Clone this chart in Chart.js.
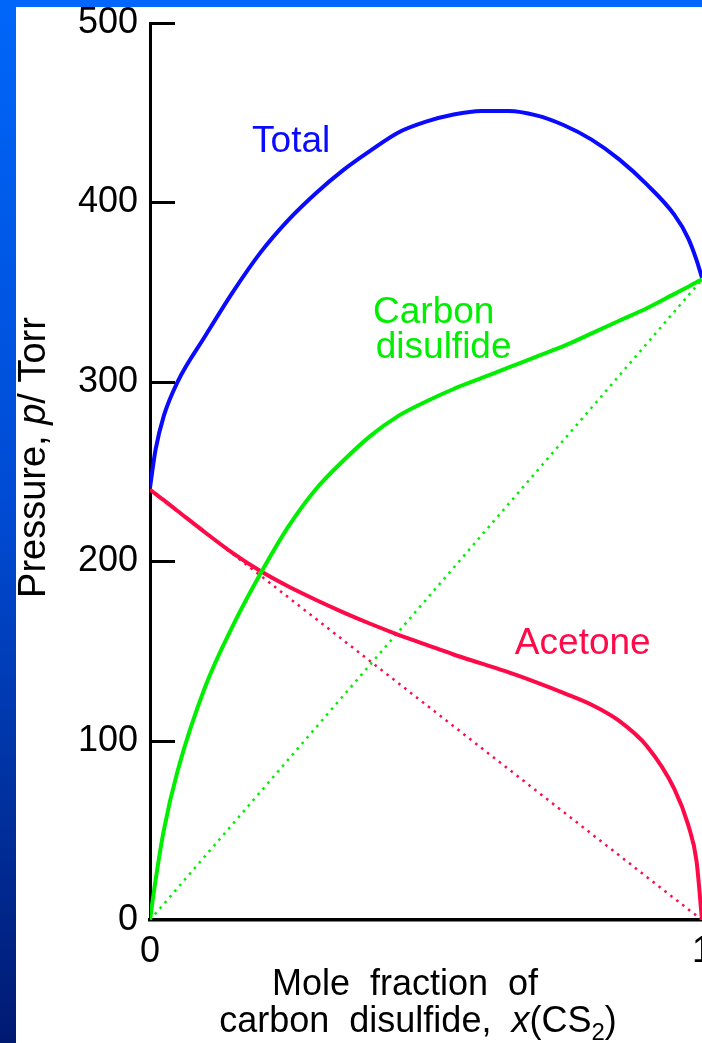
<!DOCTYPE html>
<html>
<head>
<meta charset="utf-8">
<script src="https://cdn.jsdelivr.net/npm/chart.js@4.4.1/dist/chart.umd.min.js"></script>
<style>
html, body { margin:0; padding:0; width:702px; height:1043px; overflow:hidden; background:#fff; }
#topbar { position:absolute; left:0; top:0; width:702px; height:7px; background:#0066ff; }
#sidebar { position:absolute; left:0; top:0; width:16px; height:1043px;
  background:linear-gradient(#0066fa 0%, #004ad2 50%, #001a72 100%); }
#plot { position:absolute; left:16px; top:7px; }
</style>
</head>
<body>
<canvas id="plot" width="744" height="1036"></canvas>
<div id="topbar"></div>
<div id="sidebar"></div>
<script>
// mole fraction of CS2
var xFrac = [0, 0.01, 0.025, 0.05, 0.1, 0.15, 0.2, 0.25, 0.3, 0.35, 0.4, 0.45, 0.5,
             0.55, 0.6, 0.65, 0.7, 0.75, 0.8, 0.85, 0.9, 0.95, 0.975, 0.99, 1];
// pressures in Torr
var pTotal   = [241, 262, 281, 300, 325.5, 350, 372, 390, 405, 418, 429, 439, 445,
                449, 451, 451, 448.5, 443, 435, 424, 410, 393, 380, 368, 358];
var pCS2     = [0, 22, 50, 83, 130, 164, 193, 219, 240, 256, 270, 281, 289,
                296, 302, 308, 314, 320, 327, 334, 341, 349, 353, 355.5, 357];
var pAcetone = [240, 237.5, 234, 228, 216, 204.5, 194.5, 186, 178.5, 171.5, 165, 159, 153.5,
                148, 143, 138, 132.5, 126.5, 120, 111, 97, 73, 53, 33, 0];
// Raoult's law lines
var xIdeal = [0, 1];
var pCS2Ideal = [0, 357];
var pAcetoneIdeal = [240, 0];

var BLUE = '#0a0aff';
var GREEN = '#00ee00';
var RED = '#ff0a48';
var FONT = '"Liberation Sans", Arial, sans-serif';

function toPoints(xs, ys){
    var pts = [];
    for (var i = 0; i < xs.length; i++) pts.push({x: xs[i], y: ys[i]});
    return pts;
}

function createLine(label, color, xs, ys, dotted){
    return {
        label: label,
        data: toPoints(xs, ys),
        borderColor: color,
        borderWidth: dotted ? 2.5 : 4,
        borderDash: dotted ? [2.5, 5] : [],
        pointRadius: 0,
        fill: false,
        cubicInterpolationMode: 'monotone',
        order: dotted ? 2 : 1
    };
}

function drawRuns(ctx, runs, x, y){
    var total = 0;
    runs.forEach(function(r){ ctx.font = r[1]; total += ctx.measureText(r[0]).width; });
    var cx = x - total / 2;
    runs.forEach(function(r){
        ctx.font = r[1];
        ctx.fillText(r[0], cx, y + (r[2] || 0));
        cx += ctx.measureText(r[0]).width;
    });
}

var decorations = {
    id: 'decorations',
    afterDraw: function(chart){
        var ctx = chart.ctx;
        var area = chart.chartArea;
        var xs = chart.scales.x, ys = chart.scales.y;
        ctx.save();
        // inward ticks on the y axis
        ctx.strokeStyle = '#000';
        ctx.lineWidth = 3;
        ys.ticks.forEach(function(t){
            if (t.value === 0) return;
            var py = Math.round(ys.getPixelForValue(t.value)) + 0.5;
            ctx.beginPath();
            ctx.moveTo(area.left, py);
            ctx.lineTo(area.left + 25, py);
            ctx.stroke();
        });

        // curve labels
        ctx.textAlign = 'left';
        ctx.textBaseline = 'alphabetic';
        ctx.font = '37px ' + FONT;
        ctx.fillStyle = BLUE;
        ctx.fillText('Total', xs.getPixelForValue(0.185), ys.getPixelForValue(428));
        ctx.fillStyle = GREEN;
        ctx.fillText('Carbon', xs.getPixelForValue(0.404), ys.getPixelForValue(333));
        ctx.fillText('disulfide', xs.getPixelForValue(0.409), ys.getPixelForValue(313));
        ctx.fillStyle = RED;
        ctx.fillText('Acetone', xs.getPixelForValue(0.661), ys.getPixelForValue(148));

        // axis titles
        ctx.fillStyle = '#000';
        var f = '36px ' + FONT, fi = 'italic 36px ' + FONT, fs = '24px ' + FONT;
        drawRuns(ctx, [['Mole  fraction  of', f]], area.left + 255, area.bottom + 75);
        drawRuns(ctx, [['carbon  disulfide,  ', f], ['x', fi], ['(CS', f], ['2', fs, 8], [')', f]],
            area.left + 268, area.bottom + 112);

        ctx.translate(area.left - 105, (area.top + area.bottom) / 2 - 14);
        ctx.rotate(-Math.PI / 2);
        drawRuns(ctx, [['Pressure, ', '38px ' + FONT], ['p', 'italic 38px ' + FONT], ['/ Torr', '38px ' + FONT]], 0, 0);
        ctx.restore();
    }
};

var ctx = document.getElementById('plot').getContext('2d');
var chart = new Chart(ctx, {
    type: 'line',
    data: {
        datasets: [
            createLine('Total', BLUE, xFrac, pTotal, false),
            createLine('Carbon disulfide', GREEN, xFrac, pCS2, false),
            createLine('Acetone', RED, xFrac, pAcetone, false),
            createLine('CS2 ideal', GREEN, xIdeal, pCS2Ideal, true),
            createLine('Acetone ideal', RED, xIdeal, pAcetoneIdeal, true)
        ]
    },
    options: {
        responsive: false,
        animation: false,
        devicePixelRatio: 1,
        layout: { padding: { top: 16, right: 58, left: 0, bottom: 0 } },
        plugins: { legend: { display: false }, tooltip: { enabled: false } },
        scales: {
            x: {
                type: 'linear',
                min: 0, max: 1,
                grid: { display: true, drawOnChartArea: false, drawTicks: false },
                border: { display: true, color: '#000', width: 3.5 },
                ticks: { stepSize: 1, padding: 10, color: '#000', font: { family: FONT, size: 36 } },
                afterFit: function(scale){ scale.height = 123; }
            },
            y: {
                min: 0, max: 500,
                grid: { display: true, drawOnChartArea: false, drawTicks: false },
                border: { display: true, color: '#000', width: 3 },
                ticks: { stepSize: 100, padding: 12, color: '#000', font: { family: FONT, size: 36 } },
                afterFit: function(scale){
                    scale.width = 134;
                    scale.paddingTop = 0;
                    scale.paddingBottom = 0;
                }
            }
        }
    },
    plugins: [decorations]
});
</script>
</body>
</html>
